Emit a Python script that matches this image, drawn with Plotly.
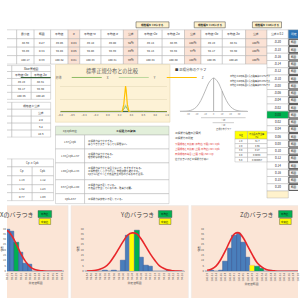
import plotly.graph_objects as go

FONT = "Noto Sans CJK JP"

# ---------------- data ----------------
main_headers = ["規格値", "最小値", "範囲", "平均値", "σ", "平均値+σ", "平均値-σ", "公差",
                "平均値+2σ", "平均値-2σ", "公差", "平均値+3σ", "平均値-3σ", "公差"]
row_x = ["89.00", "88.69", "0.27", "89.05", "0.04", "89.10", "89.00", "92%", "89.14", "88.96", "100%", "89.19", "88.91", "100%"]
row_y = ["94.00", "93.89", "0.34", "94.04", "0.05", "94.08", "93.99", "89%", "94.13", "93.94", "97%", "94.17", "93.90", "100%"]
row_z = ["100.30", "100.17", "0.39", "100.32", "0.01", "100.33", "100.31", "96%", "100.34", "100.30", "100%", "100.35", "100.28", "100%"]
buttons = ["規格幅を±σにする", "規格幅を±2σにする", "規格幅を±3σにする"]

tol_header = "公差±0.2"
tol_values = ["-0.20", "-0.18", "-0.16", "-0.14", "-0.12", "-0.10", "-0.08", "-0.06", "-0.04", "-0.02",
              "0.00", "0.02", "0.04", "0.06", "0.08", "0.10", "0.12", "0.14", "0.16", "0.18", "0.20"]

xbar_plus = ["89.19", "94.17", "100.35"]
xbar_minus = ["88.91", "93.90", "100.28"]
tolerance = ["2.0", "6.2", "10.6"]
cp_values = ["1.19", "1.32", "0.77"]
cpk_values = ["1.12", "1.23", "1.09"]

sig_levels = ["1.0", "2.0", "3.0", "4.0", "5.0"]
defect_rates = ["31.7", "4.55", "0.27", "0.0063", "0.000057"]

eval_ranges = ["1.67≦Cpk", "1.33≦Cpk&lt;1.67", "1.00≦Cpk&lt;1.33", "0.67≦Cpk&lt;1.00", "Cpk&lt;0.67"]
eval_texts = ["工程能力は十分すぎる。<br>ばらつきが大きくなっても問題ない。",
              "工程能力は十分である。<br>理想的な状態である。",
              "工程能力は十分とは言えないが、まずまずである。<br>工程管理をしっかり行い、管理状態を維持する。<br>Cpが1に近づくと不良品発生の恐れがあるので注意。",
              "工程能力は不足している。<br>不良品が発生しているため、改善が必要。",
              "工程能力は非常に不足している。"]

# comparison chart (standard normal vs. X/Y/Z)
cmp_x = [-0.8, -0.6, -0.4, -0.2, 0.0, 0.1, 0.2, 0.24, 0.27, 0.29, 0.3, 0.31, 0.33, 0.36, 0.4, 0.6, 0.8, 1.0]
cmp_std = [0.29, 0.33, 0.37, 0.39, 0.40, 0.40, 0.39, 0.39, 0.38, 0.38, 0.38, 0.38, 0.38, 0.37, 0.37, 0.33, 0.29, 0.24]
cmp_sx = [0, 0, 0, 0, 0, 0, 0, 0.2, 1.2, 2.0, 2.2, 2.0, 1.2, 0.2, 0, 0, 0, 0]
cmp_sy = [0, 0, 0, 0, 0, 0, 0, 0.3, 1.6, 2.6, 2.8, 2.6, 1.6, 0.3, 0, 0, 0, 0]
cmp_sz = [0, 0, 0, 0, 0, 0, 0, 0.1, 3.0, 8.5, 10.0, 8.5, 3.0, 0.1, 0, 0, 0, 0]

# normal distribution illustration
nd_x = [-4, -3.5, -3, -2.5, -2, -1.5, -1, -0.5, 0, 0.5, 1, 1.5, 2, 2.5, 3, 3.5, 4]
nd_y = [0.0001, 0.0009, 0.004, 0.018, 0.054, 0.13, 0.242, 0.352, 0.399, 0.352, 0.242, 0.13, 0.054, 0.018, 0.004, 0.0009, 0.0001]
nd_ticks = ["-3σ", "-2σ", "-1σ", "0", "1σ", "2σ", "3σ"]

# histograms: bin labels, counts, fitted curve
hx_labels = ["89.07", "89.09", "89.11", "89.13", "89.15", "89.17", "89.19", "89.21", "89.23", "89.25", "89.27",
             "89.29", "89.31", "89.33", "89.35", "89.37", "89.39", "89.41", "89.43", "89.45", "89.47", "89.49"]
hx_counts = [0, 1, 2, 5, 12, 20, 30, 36, 40, 39, 37, 27, 18, 7, 6, 0, 0, 0, 0, 0, 0, 0]
hx_curve = [0, 0.1, 0.5, 2, 5, 11, 20, 30, 37, 38, 33, 25, 16, 9, 4, 1.5, 0.5, 0.2, 0, 0, 0, 0]
hx_mark = {11: "mean", 7: "median"}

hy_labels = ["93.84", "93.86", "93.88", "93.90", "93.92", "93.94", "93.96", "93.98", "94.00", "94.02", "94.04",
             "94.06", "94.08", "94.10", "94.12", "94.14", "94.16", "94.18", "94.20", "94.22", "94.24", "94.26"]
hy_counts = [0, 0, 0, 0, 1, 0, 1, 0, 10, 34, 35, 38, 13, 5, 4, 0, 0, 0, 1, 0, 0, 0]
hy_curve = [0.1, 0.3, 0.8, 2, 4, 8, 14, 21, 28, 34, 36, 35, 30, 23, 16, 10, 5, 2.5, 1, 0.4, 0.1, 0]
hy_mark = {11: "mean", 10: "median"}

hz_labels = ["100.29", "100.31", "100.33", "100.35", "100.37", "100.39", "100.41", "100.43", "100.45", "100.47", "100.49",
             "100.51", "100.53", "100.55", "100.57", "100.59", "100.61", "100.63", "100.65", "100.67", "100.69", "100.71"]
hz_counts = [0, 1, 0, 1, 9, 21, 34, 35, 27, 13, 5, 4, 3, 0, 1, 0, 0, 0, 0, 0, 0, 0]
hz_curve = [0.8, 2, 5, 11, 19, 28, 35, 36, 31, 23, 15, 8, 4, 1.6, 0.6, 0.2, 0, 0, 0, 0, 0, 0]
hz_mark = {11: "mean", 12: "mean", 10: "median"}

# ---------------- helpers ----------------
shapes, ann = [], []


def R(x0, y0, x1, y1, fill=None, line=None, lw=0.4):
    shapes.append(dict(type="rect", xref="x", yref="y", x0=x0, y0=y0, x1=x1, y1=y1, layer="below",
                       fillcolor=fill or "rgba(0,0,0,0)",
                       line=dict(color=line or "rgba(0,0,0,0)", width=lw if line else 0)))


def L(x0, y0, x1, y1, color="#888", lw=0.5, dash=None):
    shapes.append(dict(type="line", xref="x", yref="y", x0=x0, y0=y0, x1=x1, y1=y1, layer="below",
                       line=dict(color=color, width=lw, dash=dash)))


def T(x, y, s, size=3.0, color="#333", xa="center", ya="middle"):
    ann.append(dict(xref="x", yref="y", x=x, y=y, text=s, showarrow=False, borderpad=0,
                    font=dict(size=size, color=color, family=FONT), xanchor=xa, yanchor=ya, align="left" if xa == "left" else "center"))


BORDER = "#a6a6a6"
PINK = "#fbe2d5"

# ---- top buttons ----
for bx, label in zip([(133, 167), (193, 225), (253, 283)], buttons):
    R(bx[0], 22, bx[1], 28, fill="#fff2cc", line="#404040", lw=0.5)
    T((bx[0] + bx[1]) / 2, 25, "<b>" + label + "</b>", 2.6, "#222")

# ---- main table ----
mx = [-12, 10, 28, 45, 63, 75, 97, 120, 135, 160, 183, 200, 222, 246, 268]
my = [30, 39, 47.5, 56, 64.5]
pink_cols = {4, 7, 10, 13}
for r, row in enumerate([main_headers, row_x, row_y, row_z]):
    for c in range(len(mx) - 1):
        fill = PINK if c in pink_cols else "#ffffff"
        R(mx[c], my[r], mx[c + 1], my[r + 1], fill=fill, line=BORDER)
        T((mx[c] + mx[c + 1]) / 2, (my[r] + my[r + 1]) / 2, row[c], 2.8, "#333")

# ---- tolerance column ----
tx0, tx1, bx1 = 268, 290, 300
R(tx0, 30, tx1, 39, fill="#ffffff", line=BORDER)
T((tx0 + tx1) / 2, 34.5, tol_header, 2.8)
R(tx1, 30, bx1 + 5, 39, fill="#2e75b6", line=BORDER)
T(296, 34.5, "判定", 2.8, "#fff")
rh = 7.3
for i, v in enumerate(tol_values):
    y0 = 39 + i * rh
    green = v == "0.00"
    R(tx0, y0, tx1, y0 + rh, fill="#00b050" if green else "#ffffff", line=BORDER)
    T((tx0 + tx1) / 2, y0 + rh / 2, v, 3.0, "#222")
    R(tx1 + 0.6, y0 + 0.6, bx1 + 5, y0 + rh - 0.6, fill="#f2f2f2", line="#262626", lw=0.8)
    T(296, y0 + rh / 2, "範囲", 2.6, "#222")
yl = 39 + len(tol_values) * rh
R(tx0, yl, tx1, yl + 7, fill="#fff2cc", line=BORDER)

# ---- Xbar table ----
xe = [-12, 5, 25, 45]
R(xe[0], 66, xe[1], 72, fill="#fff", line=BORDER)
R(xe[1], 66, xe[3], 72, fill="#fff", line=BORDER)
T(25, 69, "Xbar管理図", 2.8)
ys = [72, 79, 86, 93, 100]
rows = [["", "平均値+3σ", "平均値-3σ"]] + [["", a, b] for a, b in zip(xbar_plus, xbar_minus)]
for r in range(4):
    for c in range(3):
        R(xe[c], ys[r], xe[c + 1], ys[r + 1], fill="#fff", line=BORDER)
        T((xe[c] + xe[c + 1]) / 2, (ys[r] + ys[r + 1]) / 2, rows[r][c], 2.8)

# ---- tolerance table ----
R(xe[0], 103, xe[1], 110, fill="#fff", line=BORDER)
R(xe[1], 103, xe[3], 110, fill="#fff", line=BORDER)
T(25, 106.5, "規格値と公差", 2.8)
ys = [110, 117, 124, 131, 138]
rows = [["", "", "公差"]] + [["", "", t] for t in tolerance]
for r in range(4):
    for c in range(3):
        R(xe[c], ys[r], xe[c + 1], ys[r + 1], fill="#fff", line=BORDER)
        T((xe[c] + xe[c + 1]) / 2, (ys[r] + ys[r + 1]) / 2, rows[r][c], 2.8)

# ---- Cp / Cpk table ----
xe2 = [-12, 5, 26, 48]
R(xe2[0], 160, xe2[1], 168, fill="#fff", line=BORDER)
R(xe2[1], 160, xe2[3], 168, fill="#fff", line=BORDER)
T(26, 164, "Cp と Cpk", 2.8)
ys = [168, 177, 186, 194, 202]
rows = [["", "Cp", "Cpk"]] + [["", a, b] for a, b in zip(cp_values, cpk_values)]
for r in range(4):
    for c in range(3):
        R(xe2[c], ys[r], xe2[c + 1], ys[r + 1], fill="#fff", line=BORDER)
        T((xe2[c] + xe2[c + 1]) / 2, (ys[r] + ys[r + 1]) / 2, rows[r][c], 2.8)

# ---- comparison chart frame ----
R(50, 65, 168, 123, fill="#fdf2d6", line="#e3d3a8", lw=0.5)
T(109, 71, "標準正規分布との比較", 5.2, "#595959")

# ---- evaluation table ----
ex = [50, 80, 167]
R(ex[0], 127, ex[2], 136, fill="#e2efda", line=BORDER)
T(65, 131.5, "Cp,Cpkの値", 2.6)
T(123, 131.5, "<b>工程能力の評価</b>", 2.8)
eys = [136, 150, 164, 181, 195, 205]
for i in range(5):
    R(ex[0], eys[i], ex[1], eys[i + 1], fill="#fff", line=BORDER)
    R(ex[1], eys[i], ex[2], eys[i + 1], fill="#fff", line=BORDER)
    T(65, (eys[i] + eys[i + 1]) / 2, eval_ranges[i], 2.5)
    T(82, (eys[i] + eys[i + 1]) / 2, eval_texts[i], 2.4, "#333", xa="left")

# ---- normal graph texts ----
T(172, 70, "■ 正規分布のグラフ", 3.4, "#404040", xa="left")
for i, p in enumerate(["68.27", "95.45", "99.73"]):
    T(229, 77 + 4.5 * i, "平均値±%dσの範囲に入る確率は%s%%です" % (i + 1, p), 2.05, "#333", xa="left")
L(200, 118.5, 246, 118.5, "#808080", 0.4)
L(212, 123.5, 234, 123.5, "#808080", 0.4)
T(223, 120.8, "±2σ", 2.0, "#555")
T(223, 125.8, "±1σ", 2.0, "#555")
T(223, 129.5, "正規分布グラフ", 2.2, "#555")
T(172, 134, "工程能力指数の計算式", 2.6, "#333", xa="left")
T(172, 139, "工程能力の判定", 2.6, "#333", xa="left")
for i, s in enumerate(["下限規格との比較 (平均値-下限)/3σ = Cpk", "上限規格との比較 (上限-平均値)/3σ = Cpk",
                       "両側規格の場合 (上限-下限)/6σ = Cp"]):
    T(172, 145 + 5 * i, s, 2.4, "#e03030", xa="left")
T(172, 160, "値が大きいほど工程能力が高い", 2.4, "#333", xa="left")

# ---- sigma table ----
sx = [235, 248, 268]
R(sx[0], 132, sx[1], 140, fill="#ffff00", line=BORDER)
R(sx[1], 132, sx[2], 140, fill="#ffff00", line=BORDER)
T((sx[0] + sx[1]) / 2, 136, "Sig", 2.6)
T((sx[1] + sx[2]) / 2, 136, "不良品の発生率<br>(%)", 2.2)
for i in range(5):
    y0 = 140 + i * 4.6
    R(sx[0], y0, sx[1], y0 + 4.6, fill="#fff", line=BORDER)
    R(sx[1], y0, sx[2], y0 + 4.6, fill="#fff", line=BORDER)
    T((sx[0] + sx[1]) / 2, y0 + 2.3, sig_levels[i], 2.4)
    T((sx[1] + sx[2]) / 2, y0 + 2.3, defect_rates[i], 2.4)

# ---- bottom panels ----
panels = [(-58, "Xのバラつき"), (66, "Yのバラつき"), (190, "Zのバラつき")]
for left, title in panels:
    R(left, 207, left + 121, 305, fill="#fbe5d6", line="#e6e6e6", lw=0.5)
    T(left + 68, 216, title, 6.0, "#404040")
    R(left + 90, 212, left + 104, 219, fill="#00b050", line="#404040", lw=0.4)
    T(left + 97, 215.5, "平均値", 2.4, "#111")
    R(left + 91, 220, left + 103, 226, fill="#ffff00", line="#404040", lw=0.4)
    T(left + 97, 223, "中央値", 2.4, "#111")

fig = go.Figure()
fig.add_trace(go.Scatter(x=[0], y=[0], mode="markers", marker=dict(opacity=0), showlegend=False, hoverinfo="skip"))

# ---- histograms ----
BLUE, GREEN, YELLOW = "#4a7ebb", "#00b050", "#ffff00"
hists = [
    (2, hx_labels, hx_counts, hx_curve, hx_mark, -58),
    (3, hy_labels, hy_counts, hy_curve, hy_mark, 66),
    (4, hz_labels, hz_counts, hz_curve, hz_mark, 190),
]
layout_axes = {}
for n, labels, counts, curve, marks, left in hists:
    idx = list(range(len(labels)))
    colors = []
    lcolors = []
    for i in idx:
        m = marks.get(i)
        colors.append(GREEN if m == "mean" else YELLOW if m == "median" else BLUE)
        lcolors.append("#f4b183" if m == "median" else "#2f5597")
    fig.add_trace(go.Bar(x=idx, y=counts, marker=dict(color=colors, line=dict(color=lcolors, width=0.5)),
                         xaxis="x%d" % n, yaxis="y%d" % n, showlegend=False, width=1.0))
    fig.add_trace(go.Scatter(x=idx, y=curve, mode="lines", line=dict(color="#e8262a", width=1.6, shape="spline"),
                             xaxis="x%d" % n, yaxis="y%d" % n, showlegend=False))
    p0, p1 = left + 14, left + 117
    nb = len(labels)
    lo = -0.5 + max(0, (0 - p0)) / (p1 - p0) * nb
    hi = -0.5 + (min(300, p1) - p0) / (p1 - p0) * nb
    d0, d1 = max(0, p0) / 300, min(300, p1) / 300
    layout_axes["xaxis%d" % n] = dict(domain=[d0, d1], range=[lo, hi], anchor="y%d" % n, tickmode="array",
                                      tickvals=idx, ticktext=labels, tickangle=-90,
                                      tickfont=dict(size=2.8, color="#595959", family=FONT), showgrid=False,
                                      showline=True, linecolor="#bfbfbf", linewidth=0.5, ticks="",
                                      title=dict(text="測定値範囲", font=dict(size=2.8, color="#595959", family=FONT), standoff=2),
                                      zeroline=False, fixedrange=True)
    layout_axes["yaxis%d" % n] = dict(domain=[1 - 273 / 300, 1 - 228 / 300], range=[0, 42], anchor="x%d" % n,
                                      showgrid=False, zeroline=False, dtick=5,
                                      tickfont=dict(size=2.6, color="#595959", family=FONT), fixedrange=True,
                                      title=dict(text="個数", font=dict(size=2.6, color="#595959", family=FONT), standoff=1))

# ---- comparison chart ----
for name, ys_, col, w in [("標準", cmp_std, "#2e5e2e", 1.0), ("X", cmp_sx, "#70ad47", 0.8),
                          ("Y", cmp_sy, "#a9d18e", 0.8), ("Z", cmp_sz, "#ffc000", 1.2)]:
    fig.add_trace(go.Scatter(x=cmp_x, y=ys_, mode="lines", name=name, line=dict(color=col, width=w),
                             xaxis="x5", yaxis="y5", showlegend=True))
layout_axes["xaxis5"] = dict(domain=[55 / 300, 165 / 300], range=[-0.8, 1.0], anchor="y5", dtick=0.2,
                             tickfont=dict(size=2.6, color="#595959", family=FONT), showgrid=False,
                             showline=True, linecolor="#d9d9d9", linewidth=0.5, zeroline=False, tickformat=".1f",
                             fixedrange=True)
layout_axes["yaxis5"] = dict(domain=[1 - 113 / 300, 1 - 84 / 300], range=[0, 11], anchor="x5",
                             showgrid=True, gridcolor="#eee3c4", gridwidth=0.4, showticklabels=False,
                             zeroline=False, fixedrange=True)

# ---- normal distribution illustration ----
fig.add_trace(go.Scatter(x=nd_x, y=nd_y, mode="lines", line=dict(color="#a6a6a6", width=0.8, shape="spline"),
                         xaxis="x6", yaxis="y6", showlegend=False))
fig.add_trace(go.Scatter(x=[0, 0], y=[0, nd_y[8]], mode="lines", line=dict(color="#7f7f7f", width=0.6),
                         xaxis="x6", yaxis="y6", showlegend=False))
fig.add_trace(go.Scatter(x=[1, 1], y=[0, nd_y[10]], mode="lines", line=dict(color="#7f7f7f", width=0.5),
                         xaxis="x6", yaxis="y6", showlegend=False))
layout_axes["xaxis6"] = dict(domain=[178 / 300, 248 / 300], range=[-4, 4], anchor="y6", tickmode="array",
                             tickvals=[-3, -2, -1, 0, 1, 2, 3], ticktext=nd_ticks,
                             tickfont=dict(size=2.2, color="#7f7f7f", family=FONT), showgrid=False,
                             showline=True, linecolor="#bfbfbf", linewidth=0.5, zeroline=False, fixedrange=True)
layout_axes["yaxis6"] = dict(domain=[1 - 112 / 300, 1 - 76 / 300], range=[0, 0.43], anchor="x6", visible=False,
                             fixedrange=True)

fig.update_layout(
    width=300, height=300, margin=dict(l=0, r=0, t=0, b=0),
    paper_bgcolor="#ffffff", plot_bgcolor="rgba(0,0,0,0)",
    xaxis=dict(domain=[0, 1], range=[0, 300], visible=False, fixedrange=True),
    yaxis=dict(domain=[0, 1], range=[300, 0], visible=False, fixedrange=True),
    shapes=shapes, annotations=ann, bargap=0,
    legend=dict(orientation="h", x=109 / 300, xanchor="center", y=1 - 78 / 300, yanchor="middle",
                font=dict(size=3, color="#595959", family=FONT), bgcolor="rgba(0,0,0,0)",
                itemwidth=30, tracegroupgap=0),
    font=dict(family=FONT),
    **layout_axes,
)
fig.write_html("out.html")
